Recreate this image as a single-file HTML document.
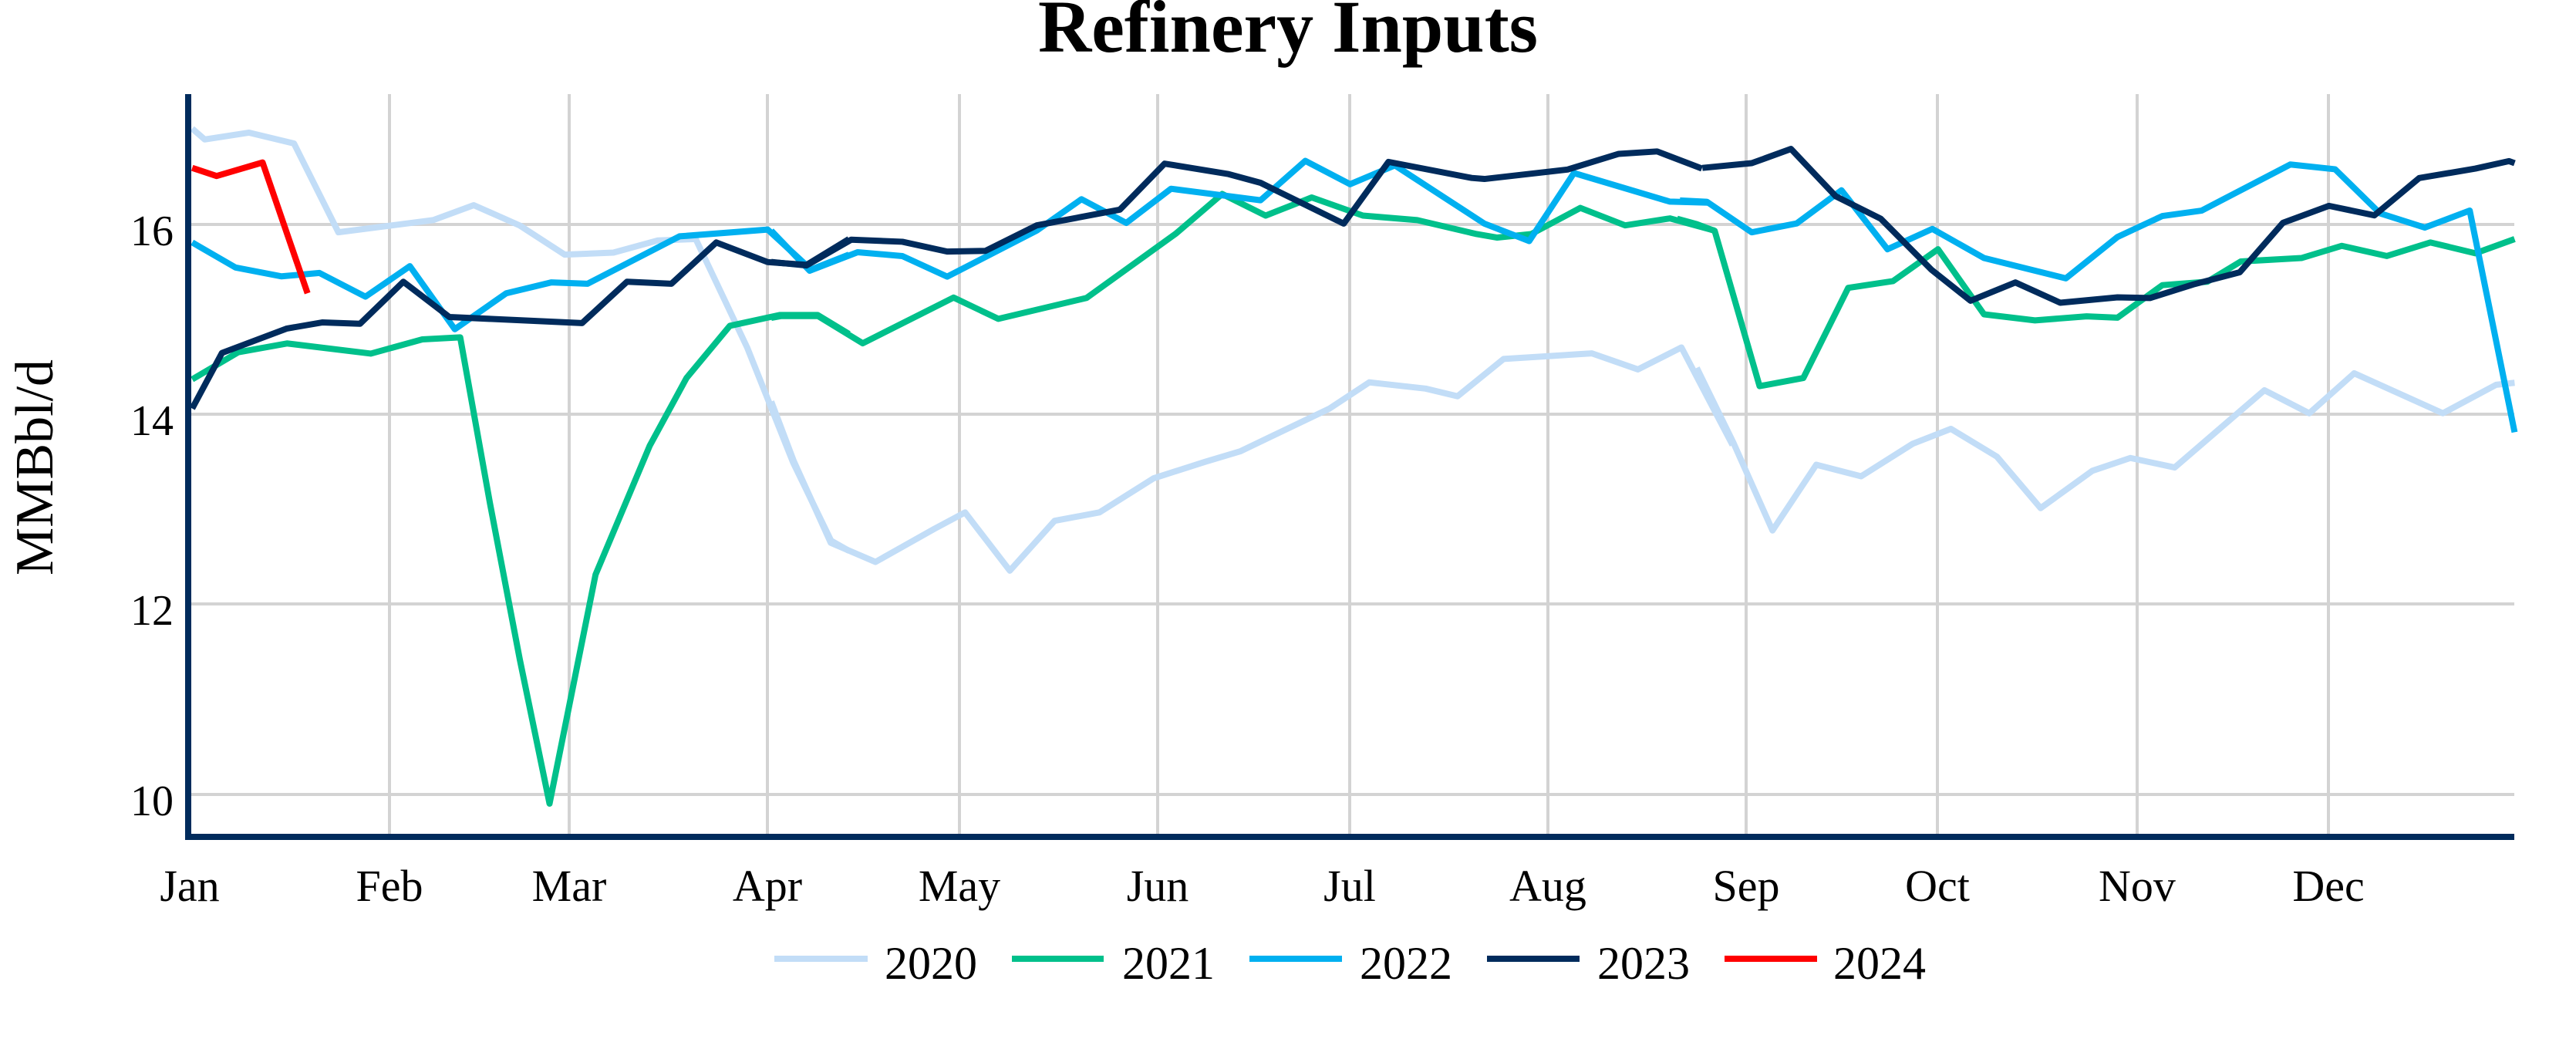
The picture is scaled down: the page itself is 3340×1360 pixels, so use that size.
<!DOCTYPE html>
<html><head><meta charset="utf-8"><style>
html,body{margin:0;padding:0;background:#fff;}
svg{display:block;}
text{font-family:"Liberation Serif","Times New Roman",serif;fill:#000;}
.s{fill:none;stroke-width:8;stroke-linejoin:round;vector-effect:non-scaling-stroke;}
</style></head><body>
<svg width="3340" height="1360" viewBox="0 0 3340 1360" xmlns="http://www.w3.org/2000/svg">
<text x="1670" y="67" font-size="96" font-weight="bold" text-anchor="middle">Refinery Inputs</text>
<g stroke="#d3d3d3" stroke-width="4">
<line x1="248" y1="291" x2="3260" y2="291"/><line x1="248" y1="537" x2="3260" y2="537"/>
<line x1="248" y1="783" x2="3260" y2="783"/><line x1="248" y1="1030" x2="3260" y2="1030"/>
<line x1="505" y1="122" x2="505" y2="1081"/><line x1="738" y1="122" x2="738" y2="1081"/>
<line x1="995" y1="122" x2="995" y2="1081"/><line x1="1244" y1="122" x2="1244" y2="1081"/>
<line x1="1501" y1="122" x2="1501" y2="1081"/><line x1="1750" y1="122" x2="1750" y2="1081"/>
<line x1="2007" y1="122" x2="2007" y2="1081"/><line x1="2264" y1="122" x2="2264" y2="1081"/>
<line x1="2512" y1="122" x2="2512" y2="1081"/><line x1="2771" y1="122" x2="2771" y2="1081"/>
<line x1="3019" y1="122" x2="3019" y2="1081"/>
</g>
<g stroke="#c2ddf7">
<polyline class="s" transform="matrix(0.702 0 0 0.8787 0 -2)" points="355,192 378,208 460,198 543,214 625,345 800,327 875,305 960,335 1043,378 1133,375 1215,357 1285,355 1380,515 1465,685 1535,800 1568,815"/>
<polyline class="s" transform="matrix(0.8293 0 0 0.4522 1000 100)" points="0,930 35,1100 93,1335 163,1390 255,1295 303,1248 373,1415 443,1272 513,1248 598,1150 678,1103 733,1073 873,950 935,875 1023,893 1073,915 1145,808 1283,792 1355,838 1423,775 1503,1055"/>
<polyline class="s" transform="matrix(0.7273 0 0 0.8787 2200 -2)" points="0,545 65,655 135,785 213,688 293,705 385,657 453,635 535,676 613,752 705,697 773,678 852,692 1012,578 1092,612 1172,553 1330,612 1425,570 1458,567"/>
</g>
<g stroke="#00c08b">
<polyline class="s" transform="matrix(0.702 0 0 0.8787 0 -2)" points="355,562 440,522 530,509 685,524 780,503 850,500 905,745 960,975 1015,1188 1100,850 1200,660 1268,560 1348,483 1440,467 1510,467 1568,495"/>
<polyline class="s" transform="matrix(0.8293 0 0 0.4522 1000 100)" points="0,690 15,685 73,685 143,763 285,632 355,693 493,633 633,448 705,335 773,397 845,345 925,397 1010,410 1103,450 1135,460 1188,450 1265,375 1335,425 1405,405 1475,440"/>
<polyline class="s" transform="matrix(0.7273 0 0 0.8787 2200 -2)" points="-35,325 0,333 32,343 112,572 190,560 270,427 350,417 430,370 512,466 603,475 695,469 750,471 830,423 910,418 970,388 1078,383 1150,365 1230,380 1308,360 1388,376 1458,355"/>
</g>
<g stroke="#00b0f0">
<polyline class="s" transform="matrix(0.702 0 0 0.8787 0 -2)" points="355,360 435,397 520,410 590,405 675,440 757,395 840,488 935,435 1018,419 1085,421 1255,351 1418,341 1498,400 1568,378"/>
<polyline class="s" transform="matrix(0.8293 0 0 0.4522 1000 100)" points="0,440 60,555 135,502 205,513 275,572 415,440 485,350 555,418 625,320 765,353 835,240 905,307 975,253 1115,420 1185,470 1255,275 1405,357 1465,360"/>
<polyline class="s" transform="matrix(0.7273 0 0 0.8787 2200 -2)" points="-30,298 18,300 98,345 178,332 258,283 340,370 420,340 512,383 658,413 750,352 830,321 900,313 1058,245 1138,252 1218,317 1298,338 1378,313 1458,640"/>
</g>
<g stroke="#002b5c">
<polyline class="s" transform="matrix(0.702 0 0 0.8787 0 -2)" points="355,605 410,523 530,487 595,478 665,480 745,418 830,470 1075,479 1158,418 1240,421 1323,360 1418,389 1490,393 1568,355"/>
<polyline class="s" transform="matrix(0.8293 0 0 0.4522 1000 100)" points="0,530 55,540 125,466 205,472 275,500 335,498 415,425 545,380 615,248 715,278 765,303 895,420 965,243 1095,289 1115,292 1245,265 1325,220 1385,213 1455,262"/>
<polyline class="s" transform="matrix(0.7273 0 0 0.8787 2200 -2)" points="10,250 98,243 168,222 248,292 328,325 418,400 488,446 568,419 648,449 750,441 808,442 885,422 968,404 1045,331 1127,306 1208,320 1288,265 1388,251 1448,240 1458,243"/>
</g>
<polyline class="s" stroke="#ff0000" transform="matrix(0.702 0 0 0.8787 0 -2)" points="355,250 400,262 485,242 568,435"/>
<g stroke="#002b5c" stroke-width="8">
<line x1="244" y1="122" x2="244" y2="1089"/>
<line x1="240" y1="1085" x2="3260" y2="1085"/>
</g>
<g font-size="56" text-anchor="end">
<text x="225" y="318">16</text><text x="225" y="564">14</text>
<text x="225" y="810">12</text><text x="225" y="1057">10</text>
</g>
<text transform="translate(68,606) rotate(-90)" font-size="70" text-anchor="middle">MMBbl/d</text>
<g font-size="58" text-anchor="middle">
<text x="246" y="1168">Jan</text><text x="505" y="1168">Feb</text><text x="738" y="1168">Mar</text>
<text x="995" y="1168">Apr</text><text x="1244" y="1168">May</text><text x="1501" y="1168">Jun</text>
<text x="1750" y="1168">Jul</text><text x="2007" y="1168">Aug</text><text x="2264" y="1168">Sep</text>
<text x="2512" y="1168">Oct</text><text x="2771" y="1168">Nov</text><text x="3019" y="1168">Dec</text>
</g>
<g stroke-width="8">
<line x1="1004" y1="1243" x2="1125" y2="1243" stroke="#c2ddf7"/>
<line x1="1312" y1="1243" x2="1431" y2="1243" stroke="#00c08b"/>
<line x1="1620" y1="1243" x2="1740" y2="1243" stroke="#00b0f0"/>
<line x1="1928" y1="1243" x2="2048" y2="1243" stroke="#002b5c"/>
<line x1="2236" y1="1243" x2="2356" y2="1243" stroke="#ff0000"/>
</g>
<g font-size="60">
<text x="1147" y="1269">2020</text><text x="1455" y="1269">2021</text>
<text x="1763" y="1269">2022</text><text x="2071" y="1269">2023</text>
<text x="2377" y="1269">2024</text>
</g>
</svg>
</body></html>
